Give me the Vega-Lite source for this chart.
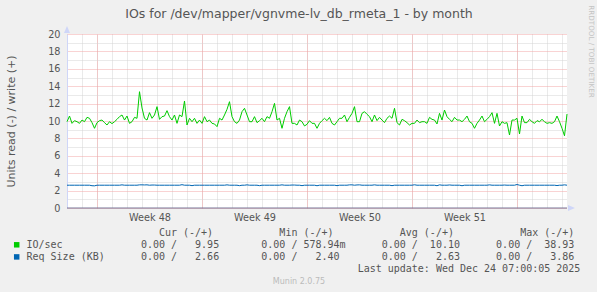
{
  "$schema": "https://vega.github.io/schema/vega-lite/v6.json",
  "width": 500,
  "height": 174,
  "autosize": {"type": "none"},
  "padding": {"left": 67, "top": 34, "right": 30, "bottom": 84},
  "background": "#F0F0F0",
  "config": {
    "view": {"fill": "#FFFFFF", "stroke": null},
    "font": "DejaVu Sans",
    "axis": {"labelFont": "DejaVu Sans", "titleFont": "DejaVu Sans", "titleFontWeight": "normal"}
  },
  "datasets": {
    "ios": [
      {"t":"2025-11-22T00:00:00Z","io":9.92,"req":2.62},
      {"t":"2025-11-22T04:00:00Z","io":10.57,"req":2.62},
      {"t":"2025-11-22T08:00:00Z","io":9.73,"req":2.62},
      {"t":"2025-11-22T12:00:00Z","io":10.04,"req":2.62},
      {"t":"2025-11-22T16:00:00Z","io":9.92,"req":2.62},
      {"t":"2025-11-22T20:00:00Z","io":9.73,"req":2.62},
      {"t":"2025-11-23T00:00:00Z","io":10.11,"req":2.62},
      {"t":"2025-11-23T04:00:00Z","io":9.92,"req":2.62},
      {"t":"2025-11-23T08:00:00Z","io":10.42,"req":2.62},
      {"t":"2025-11-23T12:00:00Z","io":10.31,"req":2.62},
      {"t":"2025-11-23T16:00:00Z","io":9.81,"req":2.56},
      {"t":"2025-11-23T20:00:00Z","io":9.16,"req":2.55},
      {"t":"2025-11-24T00:00:00Z","io":9.81,"req":2.62},
      {"t":"2025-11-24T04:00:00Z","io":10.04,"req":2.62},
      {"t":"2025-11-24T08:00:00Z","io":10.11,"req":2.62},
      {"t":"2025-11-24T12:00:00Z","io":9.81,"req":2.62},
      {"t":"2025-11-24T16:00:00Z","io":9.54,"req":2.62},
      {"t":"2025-11-24T20:00:00Z","io":9.92,"req":2.62},
      {"t":"2025-11-25T00:00:00Z","io":9.70,"req":2.62},
      {"t":"2025-11-25T04:00:00Z","io":9.92,"req":2.62},
      {"t":"2025-11-25T08:00:00Z","io":10.19,"req":2.62},
      {"t":"2025-11-25T12:00:00Z","io":10.50,"req":2.62},
      {"t":"2025-11-25T16:00:00Z","io":10.69,"req":2.66},
      {"t":"2025-11-25T20:00:00Z","io":10.11,"req":2.62},
      {"t":"2025-11-26T00:00:00Z","io":10.57,"req":2.62},
      {"t":"2025-11-26T04:00:00Z","io":9.73,"req":2.62},
      {"t":"2025-11-26T08:00:00Z","io":9.92,"req":2.62},
      {"t":"2025-11-26T12:00:00Z","io":10.42,"req":2.62},
      {"t":"2025-11-26T16:00:00Z","io":10.31,"req":2.62},
      {"t":"2025-11-26T20:00:00Z","io":13.37,"req":2.66},
      {"t":"2025-11-27T00:00:00Z","io":11.50,"req":2.66},
      {"t":"2025-11-27T04:00:00Z","io":10.31,"req":2.65},
      {"t":"2025-11-27T08:00:00Z","io":10.11,"req":2.66},
      {"t":"2025-11-27T12:00:00Z","io":10.96,"req":2.62},
      {"t":"2025-11-27T16:00:00Z","io":10.31,"req":2.64},
      {"t":"2025-11-27T20:00:00Z","io":10.69,"req":2.64},
      {"t":"2025-11-28T00:00:00Z","io":11.65,"req":2.62},
      {"t":"2025-11-28T04:00:00Z","io":10.19,"req":2.62},
      {"t":"2025-11-28T08:00:00Z","io":10.50,"req":2.62},
      {"t":"2025-11-28T12:00:00Z","io":10.57,"req":2.62},
      {"t":"2025-11-28T16:00:00Z","io":11.19,"req":2.62},
      {"t":"2025-11-28T20:00:00Z","io":10.50,"req":2.62},
      {"t":"2025-11-29T00:00:00Z","io":10.11,"req":2.62},
      {"t":"2025-11-29T04:00:00Z","io":10.69,"req":2.62},
      {"t":"2025-11-29T08:00:00Z","io":9.73,"req":2.62},
      {"t":"2025-11-29T12:00:00Z","io":10.69,"req":2.62},
      {"t":"2025-11-29T16:00:00Z","io":10.50,"req":2.68},
      {"t":"2025-11-29T20:00:00Z","io":12.30,"req":2.62},
      {"t":"2025-11-30T00:00:00Z","io":9.54,"req":2.62},
      {"t":"2025-11-30T04:00:00Z","io":10.31,"req":2.62},
      {"t":"2025-11-30T08:00:00Z","io":9.92,"req":2.57},
      {"t":"2025-11-30T12:00:00Z","io":10.31,"req":2.62},
      {"t":"2025-11-30T16:00:00Z","io":9.73,"req":2.62},
      {"t":"2025-11-30T20:00:00Z","io":10.11,"req":2.62},
      {"t":"2025-12-01T00:00:00Z","io":9.73,"req":2.62},
      {"t":"2025-12-01T04:00:00Z","io":10.50,"req":2.62},
      {"t":"2025-12-01T08:00:00Z","io":9.92,"req":2.62},
      {"t":"2025-12-01T12:00:00Z","io":10.11,"req":2.62},
      {"t":"2025-12-01T16:00:00Z","io":9.73,"req":2.62},
      {"t":"2025-12-01T20:00:00Z","io":9.66,"req":2.62},
      {"t":"2025-12-02T00:00:00Z","io":9.35,"req":2.62},
      {"t":"2025-12-02T04:00:00Z","io":10.31,"req":2.62},
      {"t":"2025-12-02T08:00:00Z","io":10.11,"req":2.62},
      {"t":"2025-12-02T12:00:00Z","io":10.69,"req":2.62},
      {"t":"2025-12-02T16:00:00Z","io":11.34,"req":2.66},
      {"t":"2025-12-02T20:00:00Z","io":12.22,"req":2.62},
      {"t":"2025-12-03T00:00:00Z","io":10.50,"req":2.62},
      {"t":"2025-12-03T04:00:00Z","io":9.92,"req":2.62},
      {"t":"2025-12-03T08:00:00Z","io":9.73,"req":2.62},
      {"t":"2025-12-03T12:00:00Z","io":10.11,"req":2.57},
      {"t":"2025-12-03T16:00:00Z","io":11.07,"req":2.62},
      {"t":"2025-12-03T20:00:00Z","io":11.46,"req":2.62},
      {"t":"2025-12-04T00:00:00Z","io":10.69,"req":2.66},
      {"t":"2025-12-04T04:00:00Z","io":9.92,"req":2.62},
      {"t":"2025-12-04T08:00:00Z","io":9.92,"req":2.62},
      {"t":"2025-12-04T12:00:00Z","io":10.50,"req":2.62},
      {"t":"2025-12-04T16:00:00Z","io":9.81,"req":2.62},
      {"t":"2025-12-04T20:00:00Z","io":10.04,"req":2.57},
      {"t":"2025-12-05T00:00:00Z","io":10.31,"req":2.62},
      {"t":"2025-12-05T04:00:00Z","io":9.92,"req":2.62},
      {"t":"2025-12-05T08:00:00Z","io":10.50,"req":2.62},
      {"t":"2025-12-05T12:00:00Z","io":10.31,"req":2.62},
      {"t":"2025-12-05T16:00:00Z","io":11.07,"req":2.62},
      {"t":"2025-12-05T20:00:00Z","io":12.03,"req":2.62},
      {"t":"2025-12-06T00:00:00Z","io":10.11,"req":2.62},
      {"t":"2025-12-06T04:00:00Z","io":10.31,"req":2.62},
      {"t":"2025-12-06T08:00:00Z","io":9.16,"req":2.66},
      {"t":"2025-12-06T12:00:00Z","io":10.31,"req":2.62},
      {"t":"2025-12-06T16:00:00Z","io":11.07,"req":2.62},
      {"t":"2025-12-06T20:00:00Z","io":11.65,"req":2.62},
      {"t":"2025-12-07T00:00:00Z","io":9.73,"req":2.64},
      {"t":"2025-12-07T04:00:00Z","io":9.73,"req":2.64},
      {"t":"2025-12-07T08:00:00Z","io":9.54,"req":2.62},
      {"t":"2025-12-07T12:00:00Z","io":10.11,"req":2.62},
      {"t":"2025-12-07T16:00:00Z","io":9.92,"req":2.57},
      {"t":"2025-12-07T20:00:00Z","io":9.43,"req":2.62},
      {"t":"2025-12-08T00:00:00Z","io":9.62,"req":2.62},
      {"t":"2025-12-08T04:00:00Z","io":10.04,"req":2.62},
      {"t":"2025-12-08T08:00:00Z","io":9.73,"req":2.62},
      {"t":"2025-12-08T12:00:00Z","io":9.73,"req":2.62},
      {"t":"2025-12-08T16:00:00Z","io":9.16,"req":2.56},
      {"t":"2025-12-08T20:00:00Z","io":9.73,"req":2.62},
      {"t":"2025-12-09T00:00:00Z","io":10.04,"req":2.62},
      {"t":"2025-12-09T04:00:00Z","io":10.31,"req":2.62},
      {"t":"2025-12-09T08:00:00Z","io":10.04,"req":2.62},
      {"t":"2025-12-09T12:00:00Z","io":10.42,"req":2.62},
      {"t":"2025-12-09T16:00:00Z","io":9.73,"req":2.62},
      {"t":"2025-12-09T20:00:00Z","io":9.54,"req":2.62},
      {"t":"2025-12-10T00:00:00Z","io":9.92,"req":2.57},
      {"t":"2025-12-10T04:00:00Z","io":10.31,"req":2.62},
      {"t":"2025-12-10T08:00:00Z","io":10.31,"req":2.62},
      {"t":"2025-12-10T12:00:00Z","io":10.69,"req":2.62},
      {"t":"2025-12-10T16:00:00Z","io":9.92,"req":2.62},
      {"t":"2025-12-10T20:00:00Z","io":10.42,"req":2.66},
      {"t":"2025-12-11T00:00:00Z","io":10.88,"req":2.66},
      {"t":"2025-12-11T04:00:00Z","io":11.65,"req":2.62},
      {"t":"2025-12-11T08:00:00Z","io":9.92,"req":2.65},
      {"t":"2025-12-11T12:00:00Z","io":9.92,"req":2.66},
      {"t":"2025-12-11T16:00:00Z","io":10.88,"req":2.62},
      {"t":"2025-12-11T20:00:00Z","io":11.07,"req":2.62},
      {"t":"2025-12-12T00:00:00Z","io":10.77,"req":2.62},
      {"t":"2025-12-12T04:00:00Z","io":10.50,"req":2.62},
      {"t":"2025-12-12T08:00:00Z","io":9.92,"req":2.62},
      {"t":"2025-12-12T12:00:00Z","io":10.69,"req":2.66},
      {"t":"2025-12-12T16:00:00Z","io":10.04,"req":2.62},
      {"t":"2025-12-12T20:00:00Z","io":10.42,"req":2.62},
      {"t":"2025-12-13T00:00:00Z","io":10.11,"req":2.62},
      {"t":"2025-12-13T04:00:00Z","io":9.81,"req":2.62},
      {"t":"2025-12-13T08:00:00Z","io":10.31,"req":2.62},
      {"t":"2025-12-13T12:00:00Z","io":10.57,"req":2.62},
      {"t":"2025-12-13T16:00:00Z","io":10.31,"req":2.57},
      {"t":"2025-12-13T20:00:00Z","io":11.46,"req":2.62},
      {"t":"2025-12-14T00:00:00Z","io":9.81,"req":2.62},
      {"t":"2025-12-14T04:00:00Z","io":9.54,"req":2.62},
      {"t":"2025-12-14T08:00:00Z","io":10.19,"req":2.62},
      {"t":"2025-12-14T12:00:00Z","io":10.04,"req":2.62},
      {"t":"2025-12-14T16:00:00Z","io":9.81,"req":2.62},
      {"t":"2025-12-14T20:00:00Z","io":9.54,"req":2.62},
      {"t":"2025-12-15T00:00:00Z","io":9.73,"req":2.62},
      {"t":"2025-12-15T04:00:00Z","io":9.73,"req":2.67},
      {"t":"2025-12-15T08:00:00Z","io":10.11,"req":2.62},
      {"t":"2025-12-15T12:00:00Z","io":9.81,"req":2.62},
      {"t":"2025-12-15T16:00:00Z","io":9.92,"req":2.62},
      {"t":"2025-12-15T20:00:00Z","io":9.92,"req":2.62},
      {"t":"2025-12-16T00:00:00Z","io":9.73,"req":2.62},
      {"t":"2025-12-16T04:00:00Z","io":10.42,"req":2.62},
      {"t":"2025-12-16T08:00:00Z","io":10.19,"req":2.62},
      {"t":"2025-12-16T12:00:00Z","io":10.11,"req":2.62},
      {"t":"2025-12-16T16:00:00Z","io":9.66,"req":2.56},
      {"t":"2025-12-16T20:00:00Z","io":10.88,"req":2.66},
      {"t":"2025-12-17T00:00:00Z","io":10.11,"req":2.62},
      {"t":"2025-12-17T04:00:00Z","io":11.26,"req":2.62},
      {"t":"2025-12-17T08:00:00Z","io":10.50,"req":2.62},
      {"t":"2025-12-17T12:00:00Z","io":10.19,"req":2.65},
      {"t":"2025-12-17T16:00:00Z","io":9.92,"req":2.62},
      {"t":"2025-12-17T20:00:00Z","io":10.42,"req":2.62},
      {"t":"2025-12-18T00:00:00Z","io":10.11,"req":2.62},
      {"t":"2025-12-18T04:00:00Z","io":10.11,"req":2.62},
      {"t":"2025-12-18T08:00:00Z","io":9.92,"req":2.56},
      {"t":"2025-12-18T12:00:00Z","io":10.19,"req":2.62},
      {"t":"2025-12-18T16:00:00Z","io":10.57,"req":2.62},
      {"t":"2025-12-18T20:00:00Z","io":9.92,"req":2.62},
      {"t":"2025-12-19T00:00:00Z","io":9.73,"req":2.62},
      {"t":"2025-12-19T04:00:00Z","io":9.16,"req":2.62},
      {"t":"2025-12-19T08:00:00Z","io":9.73,"req":2.62},
      {"t":"2025-12-19T12:00:00Z","io":10.11,"req":2.62},
      {"t":"2025-12-19T16:00:00Z","io":10.57,"req":2.62},
      {"t":"2025-12-19T20:00:00Z","io":9.92,"req":2.62},
      {"t":"2025-12-20T00:00:00Z","io":10.19,"req":2.62},
      {"t":"2025-12-20T04:00:00Z","io":10.50,"req":2.66},
      {"t":"2025-12-20T08:00:00Z","io":10.96,"req":2.62},
      {"t":"2025-12-20T12:00:00Z","io":9.73,"req":2.62},
      {"t":"2025-12-20T16:00:00Z","io":10.88,"req":2.62},
      {"t":"2025-12-20T20:00:00Z","io":9.43,"req":2.62},
      {"t":"2025-12-21T00:00:00Z","io":9.92,"req":2.62},
      {"t":"2025-12-21T04:00:00Z","io":9.73,"req":2.64},
      {"t":"2025-12-21T08:00:00Z","io":9.81,"req":2.62},
      {"t":"2025-12-21T12:00:00Z","io":8.39,"req":2.62},
      {"t":"2025-12-21T16:00:00Z","io":10.11,"req":2.62},
      {"t":"2025-12-21T20:00:00Z","io":10.11,"req":2.62},
      {"t":"2025-12-22T00:00:00Z","io":10.31,"req":2.70},
      {"t":"2025-12-22T04:00:00Z","io":8.51,"req":2.62},
      {"t":"2025-12-22T08:00:00Z","io":10.57,"req":2.56},
      {"t":"2025-12-22T12:00:00Z","io":9.81,"req":2.62},
      {"t":"2025-12-22T16:00:00Z","io":9.81,"req":2.62},
      {"t":"2025-12-22T20:00:00Z","io":10.19,"req":2.62},
      {"t":"2025-12-23T00:00:00Z","io":9.92,"req":2.62},
      {"t":"2025-12-23T04:00:00Z","io":9.73,"req":2.62},
      {"t":"2025-12-23T08:00:00Z","io":10.04,"req":2.62},
      {"t":"2025-12-23T12:00:00Z","io":9.92,"req":2.62},
      {"t":"2025-12-23T16:00:00Z","io":10.19,"req":2.62},
      {"t":"2025-12-23T20:00:00Z","io":9.92,"req":2.62},
      {"t":"2025-12-24T00:00:00Z","io":9.73,"req":2.62},
      {"t":"2025-12-24T04:00:00Z","io":9.81,"req":2.62},
      {"t":"2025-12-24T08:00:00Z","io":9.73,"req":2.62},
      {"t":"2025-12-24T12:00:00Z","io":9.92,"req":2.62},
      {"t":"2025-12-24T16:00:00Z","io":10.57,"req":2.58},
      {"t":"2025-12-24T20:00:00Z","io":9.92,"req":2.62},
      {"t":"2025-12-25T00:00:00Z","io":9.16,"req":2.62},
      {"t":"2025-12-25T04:00:00Z","io":8.30,"req":2.66},
      {"t":"2025-12-25T08:00:00Z","io":10.80,"req":2.62}
    ],
    "swatches": [
      {"series": "io", "row": "IO/sec"},
      {"series": "req", "row": "Req Size (KB)"}
    ],
    "legend": [
      {"row": "header", "line": "\u200b\u00a0\u00a0\u00a0\u00a0\u00a0\u00a0\u00a0\u00a0\u00a0\u00a0\u00a0\u00a0\u00a0\u00a0\u00a0\u00a0\u00a0\u00a0\u00a0\u00a0\u00a0\u00a0Cur\u00a0(-/+)\u00a0\u00a0\u00a0\u00a0\u00a0\u00a0\u00a0\u00a0\u00a0\u00a0\u00a0Min\u00a0(-/+)\u00a0\u00a0\u00a0\u00a0\u00a0\u00a0\u00a0\u00a0\u00a0\u00a0\u00a0Avg\u00a0(-/+)\u00a0\u00a0\u00a0\u00a0\u00a0\u00a0\u00a0\u00a0\u00a0\u00a0\u00a0Max\u00a0(-/+)"},
      {"row": "IO/sec", "line": "IO/sec\u00a0\u00a0\u00a0\u00a0\u00a0\u00a0\u00a0\u00a0\u00a0\u00a0\u00a0\u00a0\u00a00.00\u00a0/\u00a0\u00a0\u00a09.95\u00a0\u00a0\u00a0\u00a0\u00a0\u00a0\u00a00.00\u00a0/\u00a0578.94m\u00a0\u00a0\u00a0\u00a0\u00a0\u00a00.00\u00a0/\u00a0\u00a010.10\u00a0\u00a0\u00a0\u00a0\u00a0\u00a00.00\u00a0/\u00a0\u00a038.93"},
      {"row": "Req Size (KB)", "line": "Req\u00a0Size\u00a0(KB)\u00a0\u00a0\u00a0\u00a0\u00a0\u00a00.00\u00a0/\u00a0\u00a0\u00a02.66\u00a0\u00a0\u00a0\u00a0\u00a0\u00a0\u00a00.00\u00a0/\u00a0\u00a0\u00a02.40\u00a0\u00a0\u00a0\u00a0\u00a0\u00a0\u00a00.00\u00a0/\u00a0\u00a0\u00a02.63\u00a0\u00a0\u00a0\u00a0\u00a0\u00a00.00\u00a0/\u00a0\u00a0\u00a03.86"},
      {"row": "update", "line": "\u200b\u00a0\u00a0\u00a0\u00a0\u00a0\u00a0\u00a0\u00a0\u00a0\u00a0\u00a0\u00a0\u00a0\u00a0\u00a0\u00a0\u00a0\u00a0\u00a0\u00a0\u00a0\u00a0\u00a0\u00a0\u00a0\u00a0\u00a0\u00a0\u00a0\u00a0\u00a0\u00a0\u00a0\u00a0\u00a0\u00a0\u00a0\u00a0\u00a0\u00a0\u00a0\u00a0\u00a0\u00a0\u00a0\u00a0\u00a0\u00a0\u00a0\u00a0\u00a0\u00a0\u00a0\u00a0\u00a0Last\u00a0update:\u00a0Wed\u00a0Dec\u00a024\u00a007:00:05\u00a02025"}
    ]
  },
  "layer": [
    {
      "layer": [
        {
          "data": {"name": "ios"},
          "transform": [{"fold": ["io", "req"], "as": ["series", "value"]}],
          "mark": {"type": "line", "strokeWidth": 1},
          "encoding": {
            "x": {
              "field": "t", "type": "temporal",
              "scale": {"type": "utc", "nice": false, "domain": [{"year": 2025, "month": 11, "date": 22, "hours": 0, "utc": true}, {"year": 2025, "month": 12, "date": 25, "hours": 8, "utc": true}]},
              "axis": {"orient": "bottom", "tickCount": {"interval": "day", "step": 1}, "grid": true, "gridColor": "#D4D4D4", "gridDash": [1, 1], "labels": false, "ticks": false, "domain": false, "title": null}
            },
            "y": {
              "field": "value", "type": "quantitative",
              "scale": {"domain": [0, 20], "nice": false},
              "axis": {
                "orient": "left", "values": [0, 2, 4, 6, 8, 10, 12, 14, 16, 18, 20],
                "grid": true, "gridColor": "#F2A6A6", "gridDash": [1, 1],
                "ticks": false, "domain": true, "domainColor": "#CFD6F8",
                "labelPadding": 7, "labelFontSize": 9.7, "labelColor": "#555555",
                "title": "Units read (-) / write (+)", "titleFontSize": 11, "titleColor": "#555555",
                "titleX": -56, "titleY": 87, "titleAlign": "center", "titleBaseline": "middle", "titleAngle": -90
              }
            },
            "color": {"field": "series", "type": "nominal", "scale": {"domain": ["io", "req"], "range": ["#00CC00", "#0066B3"]}, "legend": null}
          }
        },
        {
          "data": {"values": [{}]},
          "mark": {"type": "rule", "color": "#777799", "strokeWidth": 1},
          "encoding": {
            "x": {
              "datum": {"year": 2025, "month": 11, "date": 22, "hours": 0, "utc": true}, "type": "temporal",
              "scale": {"type": "utc", "nice": false, "domain": [{"year": 2025, "month": 11, "date": 22, "hours": 0, "utc": true}, {"year": 2025, "month": 12, "date": 25, "hours": 8, "utc": true}]},
              "axis": {
                "orient": "top",
                "values": [
                  {"year": 2025, "month": 11, "date": 24, "utc": true},
                  {"year": 2025, "month": 12, "date": 1, "utc": true},
                  {"year": 2025, "month": 12, "date": 8, "utc": true},
                  {"year": 2025, "month": 12, "date": 15, "utc": true},
                  {"year": 2025, "month": 12, "date": 22, "utc": true}
                ],
                "grid": true, "gridColor": "#F2A6A6", "gridDash": [1, 1], "labels": false, "ticks": false, "domain": false,
                "title": "IOs for /dev/mapper/vgnvme-lv_db_rmeta_1 - by month",
                "titleFontSize": 12.5, "titleColor": "#555555", "titleX": 231.5, "titleY": -21,
                "titleAlign": "center", "titleBaseline": "middle", "titleAngle": 0
              }
            },
            "x2": {"datum": {"year": 2025, "month": 12, "date": 25, "hours": 8, "utc": true}},
            "y": {
              "datum": 0, "type": "quantitative",
              "scale": {"domain": [0, 20], "nice": false},
              "axis": {"orient": "left", "values": [1, 3, 5, 7, 9, 11, 13, 15, 17, 19], "grid": true, "gridColor": "#D4D4D4", "gridDash": [1, 1], "labels": false, "ticks": false, "domain": false, "title": null}
            }
          }
        },
        {
          "data": {"values": [{}]},
          "mark": {"type": "point", "shape": "M -0.375 -0.125 L 0.375 -0.125 L 0 -1 Z", "size": 256, "filled": true, "color": "#CFD6F8", "opacity": 1, "strokeWidth": 0},
          "encoding": {
            "x": {
              "datum": {"year": 2025, "month": 11, "date": 22, "hours": 0, "utc": true}, "type": "temporal",
              "axis": {
                "orient": "bottom",
                "values": [
                  {"year": 2025, "month": 11, "date": 27, "hours": 12, "utc": true},
                  {"year": 2025, "month": 12, "date": 4, "hours": 12, "utc": true},
                  {"year": 2025, "month": 12, "date": 11, "hours": 12, "utc": true},
                  {"year": 2025, "month": 12, "date": 18, "hours": 12, "utc": true}
                ],
                "labelExpr": "'Week ' + utcFormat(datum.value, '%V')",
                "grid": false, "ticks": false, "domain": false,
                "labelFontSize": 9.7, "labelColor": "#555555", "labelPadding": 9, "labelBaseline": "middle",
                "labelOverlap": false, "labelFlush": false, "labelBound": false,
                "title": "Munin 2.0.75", "titleFontSize": 8, "titleColor": "#BBBBBB",
                "titleX": 231.5, "titleY": 73, "titleAlign": "center", "titleBaseline": "middle", "titleAngle": 0
              }
            },
            "y": {
              "datum": 20, "type": "quantitative",
              "axis": {
                "orient": "right", "labels": false, "ticks": false, "domain": false, "grid": false,
                "title": "RRDTOOL / TOBI OETIKER", "titleFontSize": 7.2, "titleColor": "#C4C4C4",
                "titleX": 23, "titleY": 17, "titleAngle": 90, "titleAlign": "center", "titleBaseline": "middle"
              }
            }
          }
        },
        {
          "data": {"values": [{}]},
          "mark": {"type": "point", "shape": "M 0.125 -0.375 L 1 0 L 0.125 0.375 Z", "size": 256, "filled": true, "color": "#CFD6F8", "opacity": 1, "strokeWidth": 0},
          "encoding": {
            "x": {"datum": {"year": 2025, "month": 12, "date": 25, "hours": 8, "utc": true}, "type": "temporal", "axis": null},
            "y": {"datum": 0, "type": "quantitative", "axis": null}
          }
        }
      ],
      "resolve": {"axis": {"x": "independent", "y": "independent"}}
    },
    {
      "layer": [
        {
          "data": {"name": "swatches"},
          "mark": {"type": "square", "size": 30, "opacity": 1},
          "encoding": {
            "x": {"datum": "swatch", "type": "nominal", "scale": {"type": "point", "domain": ["swatch", "text"], "range": [-50.3, -40.5], "padding": 0}, "axis": null},
            "y": {"field": "row", "type": "nominal", "scale": {"type": "point", "domain": ["header", "IO/sec", "Req Size (KB)", "update"], "range": [198.7, 235], "padding": 0}, "axis": null},
            "color": {"field": "series", "type": "nominal", "scale": {"domain": ["io", "req"], "range": ["#00CC00", "#0066B3"]}, "legend": null}
          }
        },
        {
          "data": {"name": "legend"},
          "mark": {"type": "text", "font": "DejaVu Sans Mono", "fontSize": 10, "color": "#555555", "align": "left", "baseline": "middle"},
          "encoding": {
            "x": {"datum": "text", "type": "nominal", "axis": null},
            "y": {"field": "row", "type": "nominal", "axis": null},
            "text": {"field": "line"}
          }
        }
      ]
    }
  ],
  "resolve": {"scale": {"x": "independent", "y": "independent"}}
}
